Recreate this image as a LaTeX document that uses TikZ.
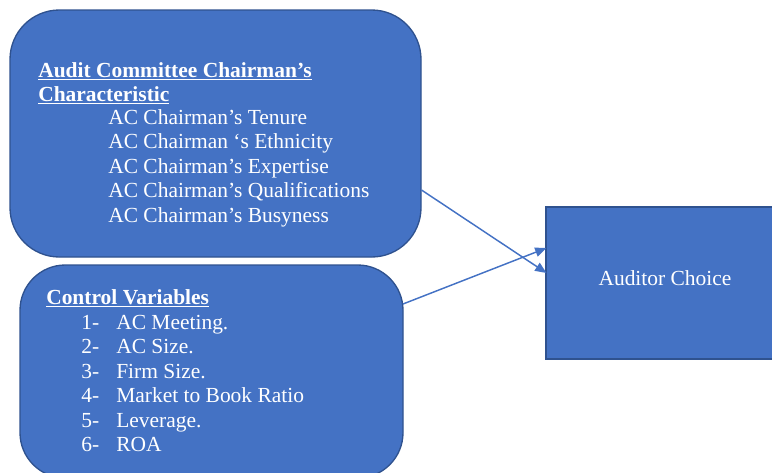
\documentclass[tikz,border=0pt]{standalone}
\usepackage{fontspec}
\setmainfont{Liberation Serif}
\usetikzlibrary{arrows.meta}
\definecolor{boxblue}{HTML}{4472C4}
\definecolor{edgeblue}{HTML}{2F528F}
\begin{document}
\begin{tikzpicture}[x=0.75pt,y=-0.75pt,
  panel/.style={draw=edgeblue, line width=1pt, fill=boxblue, inner sep=0pt},
  txt/.style={anchor=base west, text=white, inner sep=0pt, font=\fontsize{16.1}{18}\selectfont},
  arr/.style={draw=boxblue, line width=1.1pt, -{Triangle[length=8.5pt,width=7pt]}}]
\useasboundingbox (0,0) rectangle (772,472);
\clip (0,0) rectangle (772,472);
\node[panel, rounded corners=37pt, minimum width=308.25pt, minimum height=185.25pt] (top) at (215.5,133.5) {};
\node[panel, rounded corners=34pt, minimum width=287.25pt, minimum height=159.75pt] (bot) at (211.5,371.5) {};
\node[panel, minimum width=180pt, minimum height=114pt] (res) at (666,283) {};
\node[text=white, inner sep=0pt, font=\fontsize{16.1}{18}\selectfont] (restxt) at (665,278) {Auditor Choice};
% top box text
\node[txt] (h1) at (38,77) {\textbf{\underline{Audit Committee Chairman’s}}};
\node[txt] (h2) at (38,101) {\textbf{\underline{Characteristic}}};
\node[txt] (t1) at (108,124) {AC Chairman’s Tenure};
\node[txt] (t2) at (108,148.5) {AC Chairman ‘s Ethnicity};
\node[txt] (t3) at (108,173) {AC Chairman’s Expertise};
\node[txt] (t4) at (108,197.5) {AC Chairman’s Qualifications};
\node[txt] (t5) at (108,222) {AC Chairman’s Busyness};
% bottom box text
\node[txt] (c0) at (46,304) {\textbf{\underline{Control Variables}}};
\foreach \i/\s [count=\k from 0] in {1/AC Meeting.,2/AC Size.,3/Firm Size.,4/Market to Book Ratio,5/Leverage.,6/ROA}{
  \node[txt] (n\i) at (81,{329+24.5*\k}) {\i-};
  \node[txt] (v\i) at (116,{329+24.5*\k}) {\s};
}
\coordinate (a1s) at (421.5,190);
\coordinate (a1e) at (546.5,273);
\coordinate (a2s) at (403,304);
\coordinate (a2e) at (546.5,248);
\draw[arr] (a1s) -- (a1e);
\draw[arr] (a2s) -- (a2e);
\end{tikzpicture}
\end{document}
